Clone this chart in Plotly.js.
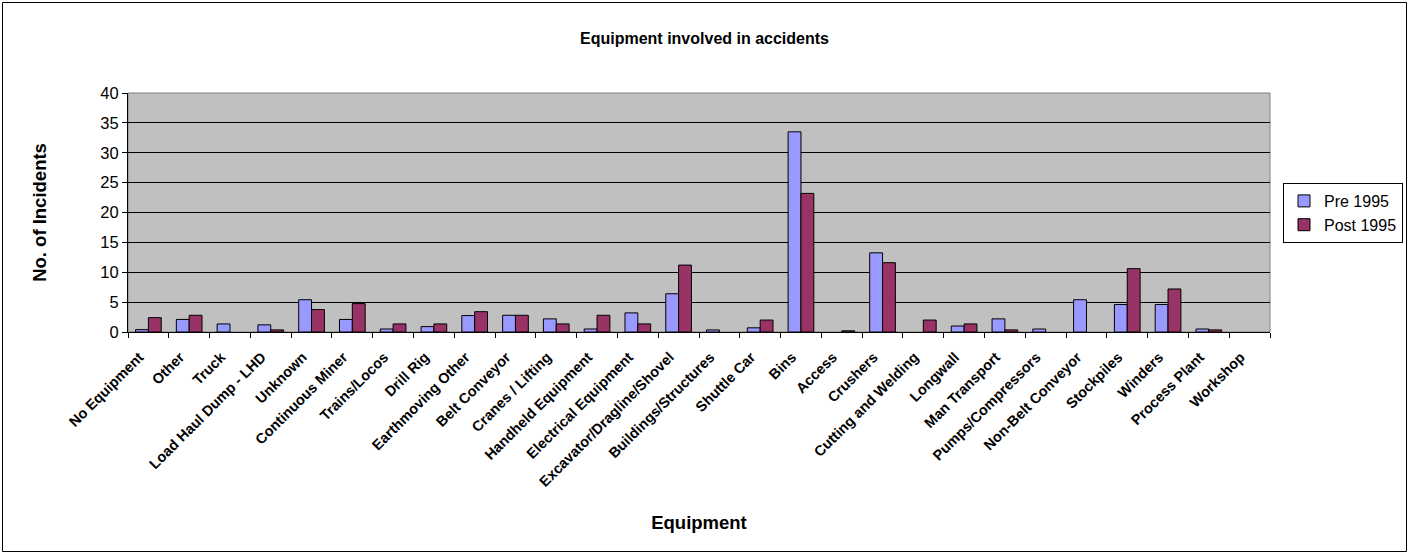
<!DOCTYPE html>
<html>
<head>
<meta charset="utf-8">
<script src="https://cdn.plot.ly/plotly-3.0.1.min.js"></script>
<style>
html,body{margin:0;padding:0;background:#fff;}
#chart{width:1409px;height:554px;}
</style>
</head>
<body>
<div id="chart"></div>
<script>
const categories = ["No Equipment","Other","Truck","Load Haul Dump - LHD","Unknown","Continuous Miner","Trains/Locos","Drill Rig","Earthmoving Other","Belt Conveyor","Cranes / Lifting","Handheld Equipment","Electrical Equipment","Excavator/Dragline/Shovel","Buildings/Structures","Shuttle Car","Bins","Access","Crushers","Cutting and Welding","Longwall","Man Transport","Pumps/Compressors","Non-Belt Conveyor","Stockpiles","Winders","Process Plant","Workshop"];
const pre1995  = [0.4,2.1,1.35,1.2,5.4,2.1,0.5,0.9,2.75,2.8,2.2,0.5,3.2,6.4,0.35,0.7,33.5,null,13.25,null,1.0,2.2,0.5,5.4,4.6,4.6,0.5,null];
const post1995 = [2.4,2.8,null,0.35,3.75,4.75,1.35,1.35,3.4,2.8,1.35,2.8,1.35,11.2,null,2.0,23.2,0.2,11.6,2.0,1.35,0.35,null,null,10.6,7.2,0.35,null];
const yTicks = [0,5,10,15,20,25,30,35,40];

const FONT = "Arial, 'Liberation Sans', sans-serif";
const L = 128, R = 1270, T = 93, B = 332, W = 1409, H = 554;
const px = x => (x - L) / (R - L);
const py = y => (B - y) / (B - T);

const traces = [
  {type:'bar', name:'Pre 1995', x:categories, y:pre1995,
   marker:{color:'#9999FF', line:{color:'#000000', width:1}}},
  {type:'bar', name:'Post 1995', x:categories, y:post1995,
   marker:{color:'#993366', line:{color:'#000000', width:1}}}
];

const layout = {
  width: W, height: H,
  margin:{l:L, r:W-R, t:T, b:H-B, pad:0, autoexpand:false},
  paper_bgcolor:'#ffffff',
  plot_bgcolor:'#C0C0C0',
  font:{family:FONT, color:'#000000'},
  barmode:'group',
  bargap:0.37,
  bargroupgap:0,
  title:{text:'<b>Equipment involved in accidents</b>', font:{family:FONT, size:16, color:'#000'}, x:0.5, xref:'container', xanchor:'center', y:1-38/H, yanchor:'middle'},
  xaxis:{
    type:'category',
    tickangle:-45,
    tickfont:{family:FONT, size:14.5, color:'#000', weight:'bold'},
    ticks:'outside', ticklen:5, tickcolor:'#000', tickson:'boundaries',
    ticklabelstandoff:10, ticklabelshift:-9,
    showline:true, linecolor:'#000', linewidth:1,
    showgrid:false,
    automargin:false,
    title:{text:'<b>Equipment</b>', font:{family:FONT, size:18.5, color:'#000'}, standoff:27}
  },
  yaxis:{
    range:[0,40],
    tickvals:yTicks,
    ticktext:yTicks.map(String),
    tickfont:{family:FONT, size:16.5, color:'#000'},
    ticks:'outside', ticklen:5, tickcolor:'#000',
    showline:true, linecolor:'#000', linewidth:1,
    showgrid:true, gridcolor:'#000000', gridwidth:1,
    zeroline:false,
    automargin:false,
    title:{text:'<b>No. of Incidents</b>', font:{family:FONT, size:18.5, color:'#000'}, standoff:48}
  },
  legend:{
    xref:'container', yref:'container',
    x:1283/W, y:1-183/H, xanchor:'left', yanchor:'top',
    bordercolor:'#000', borderwidth:1, bgcolor:'#ffffff',
    font:{family:FONT, size:16, color:'#000'},
    itemwidth:30, tracegroupgap:0
  },
  showlegend:true,
  shapes:[
    {type:'rect', xref:'paper', yref:'paper', x0:px(2.5), x1:px(1406.5), y0:py(551.5), y1:py(2.5),
     line:{color:'#000', width:1}, fillcolor:'rgba(0,0,0,0)', layer:'below'},
    {type:'rect', xref:'paper', yref:'paper', x0:0, x1:1, y0:0, y1:1,
     line:{color:'#808080', width:1}, fillcolor:'rgba(0,0,0,0)', layer:'below'}
  ]
};

Plotly.newPlot('chart', traces, layout, {displayModeBar:false, staticPlot:true});
</script>
</body>
</html>
